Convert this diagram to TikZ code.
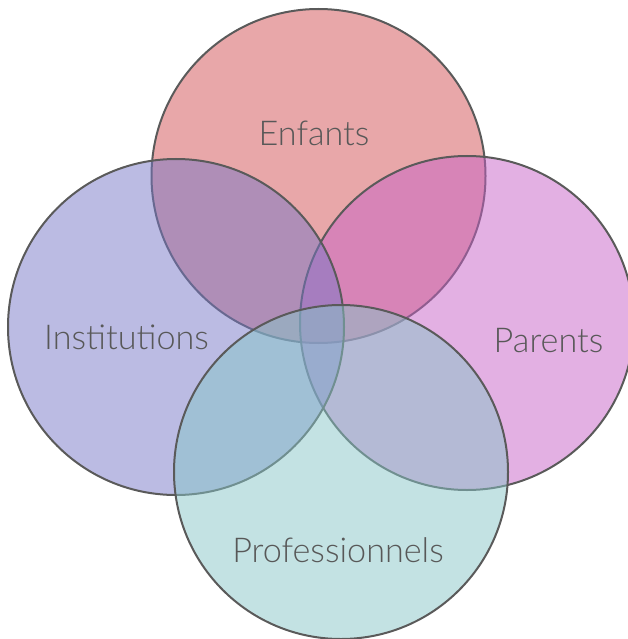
\documentclass[tikz,border=0pt]{standalone}
\usepackage{fontspec}
\setmainfont{Lato}[UprightFont={* Light}]
\definecolor{cEnf}{RGB}{209,79,83}
\definecolor{cPar}{RGB}{199,97,199}
\definecolor{cIns}{RGB}{119,119,199}
\definecolor{cPro}{RGB}{135,197,199}
\definecolor{edge}{RGB}{90,90,90}
\definecolor{txt}{RGB}{88,88,88}
\tikzset{
  venn/.style={draw=edge, line width=2pt, fill opacity=0.5},
  lbl/.style={anchor=base, text=txt, font=\fontsize{34.2}{37}\selectfont, inner sep=0pt}
}
\begin{document}
\begin{tikzpicture}[x=1pt,y=-1pt]
\useasboundingbox (0,0) rectangle (628,639);
\begin{scope}
\clip (0,0) rectangle (628,639);
\path[venn, fill=cEnf] (318.5,176) circle[radius=167];
\path[venn, fill=cPar] (467,323) circle[radius=167];
\path[venn, fill=cIns] (176,327) circle[radius=168];
\path[venn, fill=cPro] (341,472) circle[radius=167];
\end{scope}
\node[lbl] (enf) at (314,146) {Enfants};
\node[lbl] (ins) at (126.5,349) {Institutions};
\node[lbl] (par) at (548.5,352) {Parents};
\node[lbl] (pro) at (338,562) {Professionnels};
\end{tikzpicture}
\end{document}
